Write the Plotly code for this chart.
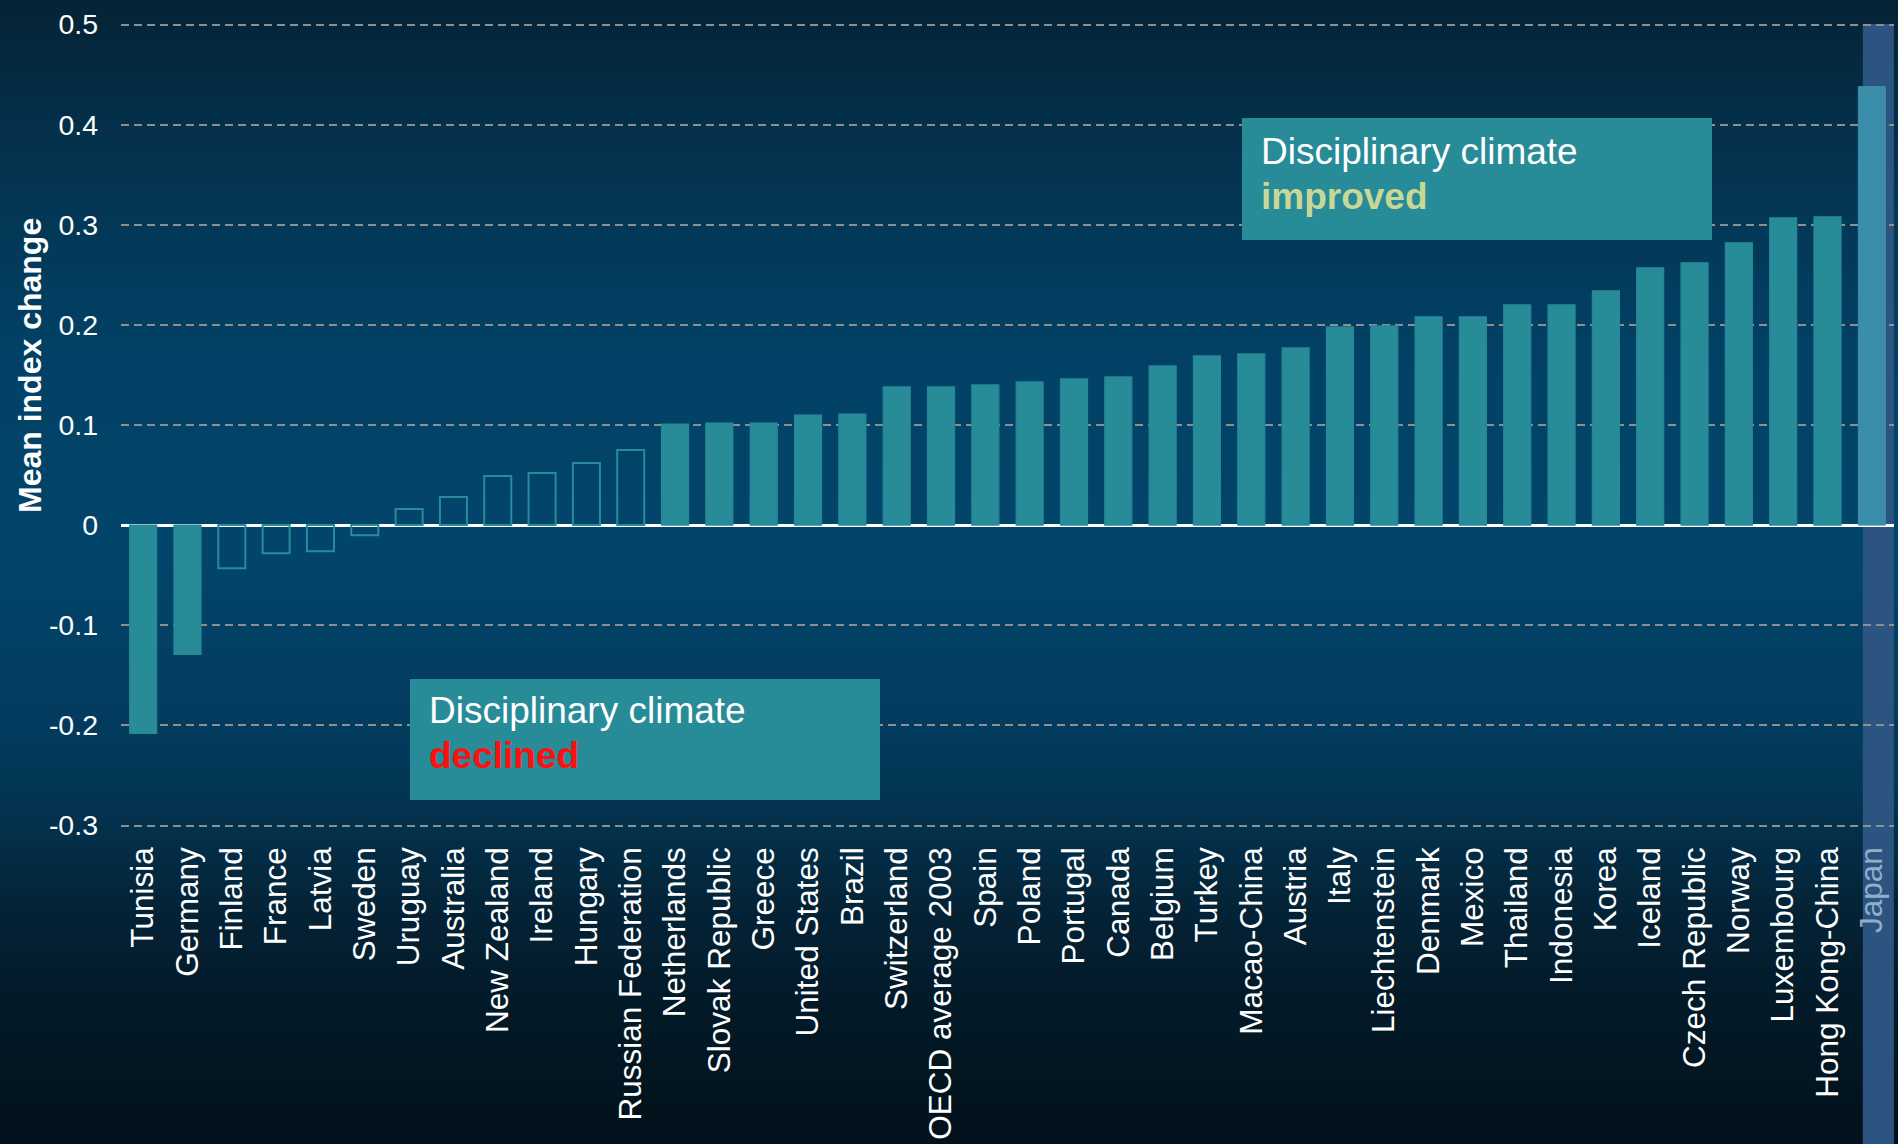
import plotly.graph_objects as go

# ---- data -------------------------------------------------------------
countries = [
    "Tunisia", "Germany", "Finland", "France", "Latvia", "Sweden", "Uruguay",
    "Australia", "New Zealand", "Ireland", "Hungary", "Russian Federation",
    "Netherlands", "Slovak Republic", "Greece", "United States", "Brazil",
    "Switzerland", "OECD average 2003", "Spain", "Poland", "Portugal", "Canada",
    "Belgium", "Turkey", "Macao-China", "Austria", "Italy", "Liechtenstein",
    "Denmark", "Mexico", "Thailand", "Indonesia", "Korea", "Iceland",
    "Czech Republic", "Norway", "Luxembourg", "Hong Kong-China", "Japan",
]
index_change = [
    -0.208, -0.129, -0.043, -0.028, -0.026, -0.010, 0.016, 0.028, 0.049, 0.052,
    0.062, 0.075, 0.101, 0.102, 0.102, 0.110, 0.111, 0.138, 0.138, 0.140,
    0.143, 0.146, 0.148, 0.159, 0.169, 0.171, 0.177, 0.198, 0.199, 0.208,
    0.208, 0.220, 0.220, 0.234, 0.257, 0.262, 0.282, 0.307, 0.308, 0.438,
]
# statistically significant change -> solid bar, otherwise outline only
significant = [True, True] + [False] * 10 + [True] * 28
highlighted = "Japan"

y_tick_values = [-0.3, -0.2, -0.1, 0, 0.1, 0.2, 0.3, 0.4, 0.5]
y_tick_labels = ["-0.3", "-0.2", "-0.1", "0", "0.1", "0.2", "0.3", "0.4", "0.5"]

# ---- styling ----------------------------------------------------------
FONT = "Liberation Sans, Arial, Helvetica, sans-serif"
TEAL = "#288c98"
TEAL_EDGE = "#24879a"
HIGHLIGHT_BAR = "#3a8eaa"
HIGHLIGHT_BAND = "#2b5580"
HIGHLIGHT_LABEL = "#93adc8"

W, H = 1898, 1144
M_L, M_R, M_T, M_B = 121, 4, 23, 317
PLOT_W = W - M_L - M_R
PLOT_H = H - M_T - M_B


def paper_x(px):
    return (px - M_L) / PLOT_W


def paper_y(py):
    return (H - M_B - py) / PLOT_H


# vertical background gradient (pixel row -> rgb)
gradient_stops = [
    (0, (5, 35, 53)),
    (150, (4, 50, 78)),
    (350, (2, 65, 101)),
    (550, (2, 69, 107)),
    (750, (3, 58, 92)),
    (830, (3, 48, 75)),
    (900, (4, 36, 56)),
    (1000, (3, 26, 40)),
    (1144, (2, 17, 27)),
]


def gradient_color(py):
    for (y0, c0), (y1, c1) in zip(gradient_stops, gradient_stops[1:]):
        if y0 <= py <= y1:
            t = (py - y0) / (y1 - y0)
            r, g, b = (round(a + (b_ - a) * t) for a, b_ in zip(c0, c1))
            return f"rgb({r},{g},{b})"
    return "rgb(%d,%d,%d)" % gradient_stops[-1][1]


shapes = []
STEP = 6
for y in range(0, H, STEP):
    shapes.append(dict(
        type="rect", xref="paper", yref="paper", layer="below",
        x0=-0.2, x1=1.2, y0=paper_y(y + STEP + 1), y1=paper_y(y),
        fillcolor=gradient_color(y + STEP / 2), line=dict(width=0),
    ))

# band behind the highlighted country, running down through its label
hi = countries.index(highlighted)
hi_center_px = M_L + (hi + 0.5) / len(countries) * PLOT_W
shapes.append(dict(
    type="rect", xref="paper", yref="paper", layer="below",
    x0=paper_x(hi_center_px - 9), x1=paper_x(hi_center_px + 22),
    y0=paper_y(H), y1=paper_y(M_T + 1),
    fillcolor=HIGHLIGHT_BAND, line=dict(width=0),
))

# callout boxes
for x0, y0, x1, y1 in [(1242, 118, 1712, 240), (410, 679, 880, 800)]:
    shapes.append(dict(
        type="rect", xref="paper", yref="paper", layer="above",
        x0=paper_x(x0), x1=paper_x(x1), y0=paper_y(y1), y1=paper_y(y0),
        fillcolor=TEAL, line=dict(width=0),
    ))

fill_colors, edge_colors, edge_widths = [], [], []
for name, sig in zip(countries, significant):
    if name == highlighted:
        fill_colors.append(HIGHLIGHT_BAR)
        edge_colors.append(HIGHLIGHT_BAR)
        edge_widths.append(1)
    elif sig:
        fill_colors.append(TEAL)
        edge_colors.append(TEAL_EDGE)
        edge_widths.append(1.2)
    else:
        fill_colors.append("rgba(0,0,0,0)")
        edge_colors.append(TEAL)
        edge_widths.append(2)

x_tick_text = [
    f'<span style="color:{HIGHLIGHT_LABEL}">{c}</span>' if c == highlighted else c
    for c in countries
]

fig = go.Figure(go.Bar(
    x=countries,
    y=index_change,
    marker=dict(color=fill_colors, line=dict(color=edge_colors, width=edge_widths)),
    showlegend=False,
))


def callout_line(text, px_left, baseline, size=37):
    # centre of the text box sits ~0.35em above the baseline
    return dict(
        text=text, xref="paper", yref="paper",
        x=paper_x(px_left), y=paper_y(baseline - 0.3465 * size),
        xanchor="left", yanchor="middle", showarrow=False,
        font=dict(family=FONT, size=size, color="white"),
    )


annotations = [
    dict(
        text="<b>Mean index change</b>", xref="paper", yref="paper",
        x=paper_x(30), y=paper_y(366), xanchor="center", yanchor="middle",
        textangle=-90, showarrow=False,
        font=dict(family=FONT, size=32, color="white"),
    ),
    callout_line("Disciplinary climate", 1259, 164),
    callout_line('<b><span style="color:#c8d796">improved</span></b>', 1259, 209),
    callout_line("Disciplinary climate", 427, 723),
    callout_line('<b><span style="color:#ff1010">declined</span></b>', 427, 768),
]

fig.update_layout(
    width=W, height=H,
    margin=dict(l=M_L, r=M_R, t=M_T, b=M_B, pad=0),
    paper_bgcolor="#03263b",
    plot_bgcolor="rgba(0,0,0,0)",
    bargap=0.39,
    font=dict(family=FONT, color="white"),
    shapes=shapes,
    annotations=annotations,
    xaxis=dict(
        type="category",
        range=[-0.5, len(countries) - 0.5],
        tickmode="array", tickvals=countries, ticktext=x_tick_text,
        tickangle=-90, tickfont=dict(family=FONT, size=31.5, color="white"),
        ticks="", showgrid=False, showline=False, zeroline=False,
        ticklabelstandoff=13, automargin=False,
    ),
    yaxis=dict(
        # a hair of padding so the end gridlines (0.5 and -0.3) are drawn
        range=[-0.3015, 0.5015],
        tickmode="array", tickvals=y_tick_values, ticktext=y_tick_labels,
        tickfont=dict(family=FONT, size=28.5, color="white"),
        ticks="", showline=False,
        showgrid=True, gridcolor="#8f8f8f", gridwidth=2, griddash="8px,5px",
        zeroline=True, zerolinecolor="white", zerolinewidth=2.5,
        ticklabelstandoff=22, automargin=False,
    ),
)

fig.write_html("out.html")
